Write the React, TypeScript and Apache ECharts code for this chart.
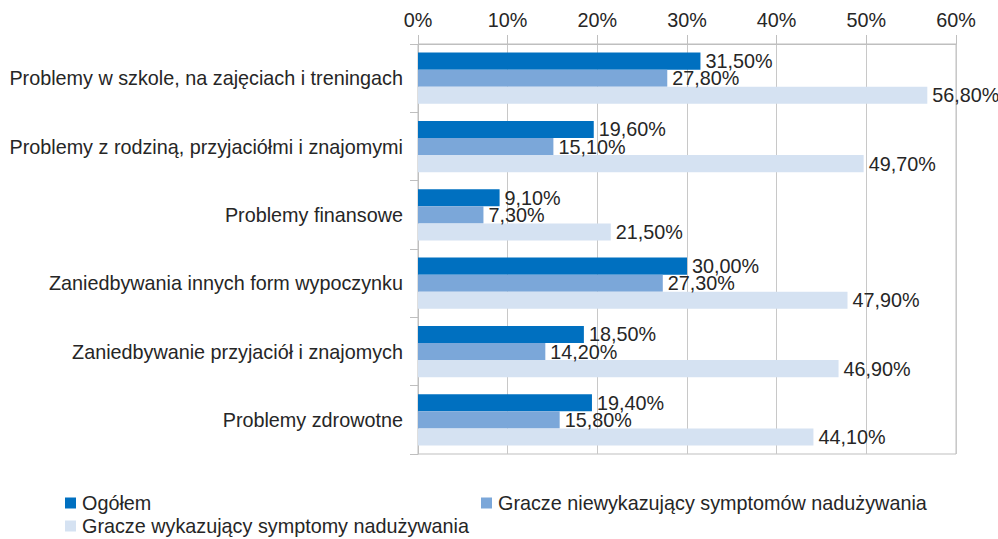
import React, { useEffect, useRef } from "react";
import * as echarts from "echarts";

const categories = [
  "Problemy w szkole, na zajęciach i treningach",
  "Problemy z rodziną, przyjaciółmi i znajomymi",
  "Problemy finansowe",
  "Zaniedbywania innych form wypoczynku",
  "Zaniedbywanie przyjaciół i znajomych",
  "Problemy zdrowotne",
];
const seriesNames = [
  "Ogółem",
  "Gracze niewykazujący symptomów nadużywania",
  "Gracze wykazujący symptomy nadużywania",
];
const ogolem = [31.5, 19.6, 9.1, 30.0, 18.5, 19.4];
const niewykazujacy = [27.8, 15.1, 7.3, 27.3, 14.2, 15.8];
const wykazujacy = [56.8, 49.7, 21.5, 47.9, 46.9, 44.1];
const colors = ["#0070C0", "#7BA7D9", "#D5E2F2"];

const FONT = "'Liberation Sans', Arial, sans-serif";
const TEXT = "#262626";
const FS = 19.8;

export default function App() {
  const ref = useRef<HTMLDivElement>(null);
  useEffect(() => {
    if (!ref.current) return;
    const chart = echarts.init(ref.current, undefined, { renderer: "svg" });
    const fmt = (p: any) => p.value.toFixed(2).replace(".", ",") + "%";
    const mk = (name: string, data: number[], color: string) => ({
      name,
      type: "bar",
      data,
      barGap: "0%",
      barCategoryGap: "25%",
      itemStyle: { color },
      label: {
        show: true,
        position: "right",
        distance: 5,
        formatter: fmt,
        color: TEXT,
        fontSize: FS,
        fontFamily: FONT,
      },
    });
    const legendBase = {
      icon: "rect",
      itemWidth: 11,
      itemHeight: 11,
      itemGap: 6,
      textStyle: {
        fontSize: FS,
        fontFamily: FONT,
        color: TEXT,
        lineHeight: 20,
        padding: [0, 0, 0, 1],
      },
      padding: 0,
    };
    chart.setOption({
      animation: false,
      textStyle: { fontFamily: FONT },
      grid: {
        left: 418,
        right: 42,
        top: 44,
        bottom: 85,
        show: true,
        borderColor: "#bfbfbf",
        borderWidth: 1,
      },
      legend: [
        { ...legendBase, data: [seriesNames[0]], left: 65, top: 493 },
        { ...legendBase, data: [seriesNames[1]], left: 481, top: 493 },
        { ...legendBase, data: [seriesNames[2]], left: 65, top: 516 },
      ],
      xAxis: {
        type: "value",
        position: "top",
        min: 0,
        max: 60,
        interval: 10,
        axisLine: { show: true, lineStyle: { color: "#bfbfbf" } },
        axisTick: { show: true, length: 9, lineStyle: { color: "#bfbfbf" } },
        splitLine: { show: true, lineStyle: { color: "#c8c8c8" } },
        axisLabel: {
          formatter: (v: number) => v + "%",
          color: TEXT,
          fontSize: FS,
          fontFamily: FONT,
          margin: 14,
        },
      },
      yAxis: {
        type: "category",
        data: categories,
        inverse: true,
        axisLine: { show: true, lineStyle: { color: "#bfbfbf" } },
        axisTick: { show: true, length: 8, lineStyle: { color: "#bfbfbf" } },
        axisLabel: {
          color: TEXT,
          fontSize: FS,
          fontFamily: FONT,
          margin: 15,
        },
      },
      series: [
        mk(seriesNames[0], ogolem, colors[0]),
        mk(seriesNames[1], niewykazujacy, colors[1]),
        mk(seriesNames[2], wykazujacy, colors[2]),
      ],
    });
    return () => chart.dispose();
  }, []);
  return (
    <div
      ref={ref}
      style={{ width: 998, height: 539, position: "absolute", left: 0, top: 0 }}
    />
  );
}
